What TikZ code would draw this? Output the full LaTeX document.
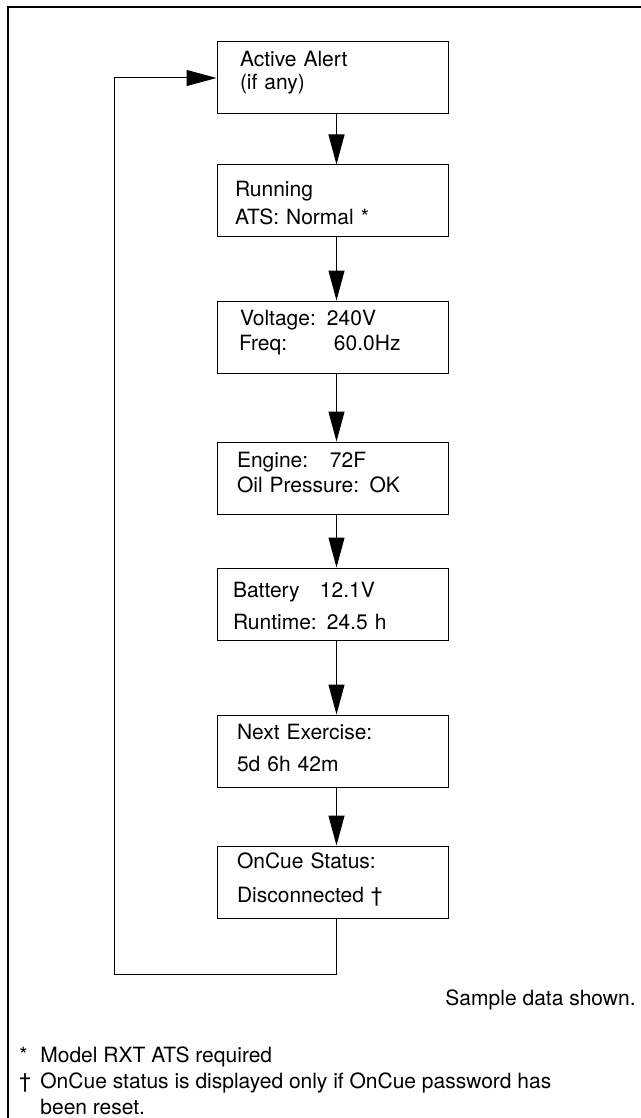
\documentclass[tikz,border=0pt]{standalone}
\usepackage{fontspec}
\setmainfont{TeX Gyre Heros}
\usetikzlibrary{arrows.meta, positioning}

\setlength{\lineskiplimit}{-10pt}
\newcommand{\kv}[3]{\makebox[#1][l]{#2}#3}

\begin{document}
\begin{tikzpicture}[
  x=0.5pt, y=-0.5pt,
  screen/.style={draw, line width=0.5pt, minimum height=36pt,
                 text width=95.5pt, inner xsep=10pt, inner ysep=0pt, align=left,
                 font=\fontsize{10.5pt}{9.5pt}\selectfont},
  flow/.style={-{Triangle[length=15pt, width=8pt]}, line width=0.5pt},
  note/.style={inner sep=0pt, font=\fontsize{10.5pt}{10pt}\selectfont}
]
\useasboundingbox (0,0) rectangle (641,1118);

% open frame
\draw[line width=1.25pt] (8,1118) -- (8,7) -- (641,7);

\node[screen, text height=12.5pt, text depth=23.5pt] (alert) at (332.5,78)
  {\hspace*{1.5pt}Active Alert\\[2pt]\hspace*{1.5pt}(if any)};
\node[screen, text height=16pt, text depth=20pt] (run) at (332.5,201)
  {\hspace*{-1pt}Running\\[2.5pt]\hspace*{-1pt}ATS: Normal *};
\node[screen, text height=12pt, text depth=24pt] (volt) at (332.5,337)
  {\hspace*{1.5pt}\kv{43.5pt}{Voltage:}{240V}\\[2pt]\hspace*{1pt}\kv{47.5pt}{Freq:}{60.0Hz}};
\node[screen, text height=12.5pt, text depth=23.5pt] (eng) at (332.5,478)
  {\kv{46.5pt}{Engine:}{72F}\\[1.5pt]Oil Pressure: OK};
\node[screen, text height=14.5pt, text depth=21.5pt] (batt) at (332.5,604)
  {\hspace*{-2pt}\kv{43.5pt}{Battery}{12.1V}\\[5.5pt]\hspace*{-2pt}\kv{47pt}{Runtime:}{24.5 h}};
\node[screen, text height=12pt, text depth=24pt] (exer) at (332.5,751)
  {Next Exercise:\\[6.5pt]5d 6h 42m};
\node[screen, text height=11pt, text depth=25pt] (cue) at (332.5,882)
  {OnCue Status:\\[7.5pt]Disconnected \textdagger};

\foreach \a/\b in {alert/run, run/volt, volt/eng, eng/batt, batt/exer, exer/cue}
  \draw[flow] ([xshift=2pt]\a.south) -- ([xshift=2pt]\b.north);

% back to the top
\coordinate (back) at (114,974);
\draw[flow] ([xshift=2pt]cue.south) |- (back) |- (alert.west);

\node[note, anchor=base east] (sample) at (636,1005) {Sample data shown.};

\node[note, anchor=base west] (star)   at (19,1062) {*};
\node[note, anchor=base west] (starnb) at (40,1062) {Model RXT ATS required};
\node[note, anchor=base west] (dag)    at (19,1088) {\textdagger};
\node[note, anchor=base west] (dagnb)  at (40,1088)
  {OnCue status is displayed only if OnCue password has};
\node[note, anchor=base west] (dagnb2) at (40,1114) {been reset.};
\end{tikzpicture}
\end{document}
